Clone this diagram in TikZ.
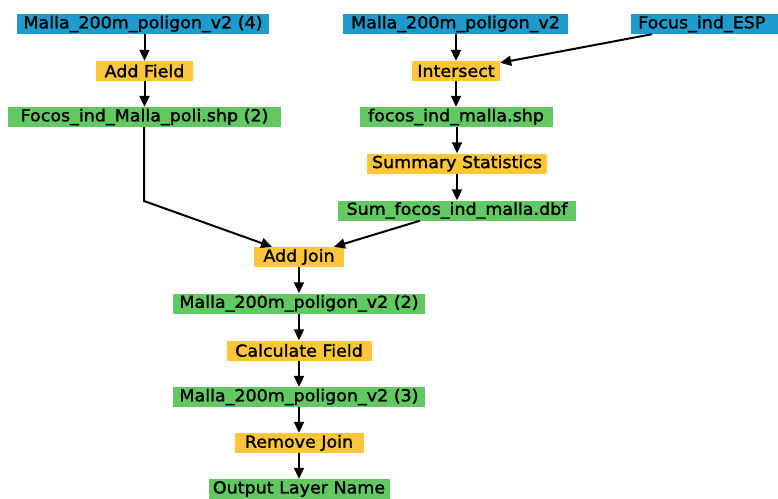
\documentclass[tikz,border=0pt]{standalone}
\usepackage{fontspec}
\newfontfamily\boxfont[FakeStretch=1.06,FakeBold=1.6]{DejaVu Sans}
\usetikzlibrary{arrows.meta}
\definecolor{inblue}{RGB}{30,154,204}
\definecolor{toolyellow}{RGB}{255,198,58}
\definecolor{outgreen}{RGB}{98,200,98}
\tikzset{
  box/.style={rectangle, inner sep=0pt, minimum height=20pt, text=black,
    font=\boxfont\fontsize{16.5}{18}\selectfont},
  inbox/.style={box, fill=inblue},
  toolbox/.style={box, fill=toolyellow},
  databox/.style={box, fill=outgreen},
  flow/.style={line width=2pt, draw=black,
    -{Triangle[length=11pt,width=10pt]}}
}
\begin{document}
\begin{tikzpicture}[x=1pt,y=-1pt]
\useasboundingbox (0,0) rectangle (778,498);
\fill[white] (0,0) rectangle (778,498);

% inputs
\node[inbox, minimum width=252pt] (b1) at (143,24) {Malla\_200m\_poligon\_v2 (4)};
\node[inbox, minimum width=225pt] (b2) at (455.5,24) {Malla\_200m\_poligon\_v2};
\node[inbox, anchor=west, inner xsep=7pt] (b3) at (631,24) {\makebox[150pt][l]{Focus\_ind\_ESP}};

% left branch
\node[toolbox, minimum width=97pt] (a1) at (144.5,71) {Add Field};
\node[databox, minimum width=273pt] (f1) at (144.5,117) {Focos\_ind\_Malla\_poli.shp (2)};

% right branch
\node[toolbox, minimum width=88pt] (a2) at (456,71) {Intersect};
\node[databox, minimum width=193pt] (f2) at (456,117) {focos\_ind\_malla.shp};
\node[toolbox, minimum width=180pt] (a3) at (457,163.5) {Summary Statistics};
\node[databox, minimum width=238pt] (f3) at (457,210.5) {Sum\_focos\_ind\_malla.dbf};

% main chain
\node[toolbox, minimum width=90pt] (a4) at (299,257) {Add Join};
\node[databox, minimum width=252pt] (f4) at (299,303.5) {Malla\_200m\_poligon\_v2 (2)};
\node[toolbox, minimum width=145pt] (a5) at (299,350.5) {Calculate Field};
\node[databox, minimum width=252pt] (f5) at (299,397) {Malla\_200m\_poligon\_v2 (3)};
\node[toolbox, minimum width=129pt] (a6) at (299,443) {Remove Join};
\node[databox, minimum width=181pt] (f6) at (299,489) {Output Layer Name};

\coordinate (bend) at (144,201);

% connectors
\draw[flow] (b1.south -| a1) -- (a1.north);
\draw[flow] (a1.south) -- (f1.north);
\draw[flow] (b2.south -| a2) -- (a2.north);
\draw[flow] ([xshift=21pt]b3.south west) -- ([yshift=-2pt]a2.north east);
\draw[flow] (a2.south) -- (f2.north);
\draw[flow] (f2.south -| a3) -- (a3.north);
\draw[flow] (a3.south) -- (f3.north);
\draw[flow] (f1.south -| bend) -- (bend) -- ([xshift=-27pt]a4.north);
\draw[flow] ([xshift=-37pt]f3.south) -- ([xshift=35pt]a4.north);
\draw[flow] (a4.south) -- (f4.north);
\draw[flow] (f4.south) -- (a5.north);
\draw[flow] (a5.south) -- (f5.north);
\draw[flow] (f5.south) -- (a6.north);
\draw[flow] (a6.south) -- (f6.north);
\end{tikzpicture}
\end{document}
